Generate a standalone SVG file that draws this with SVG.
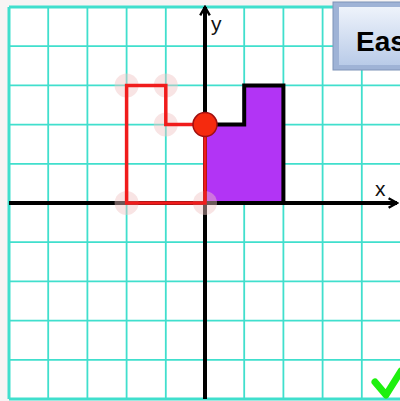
<svg xmlns="http://www.w3.org/2000/svg" width="400" height="401" viewBox="0 0 400 401">
<defs>
<style>
.grid{stroke:#40dfcd;stroke-width:1.8;fill:none}
.axis{stroke:#000;stroke-width:4;fill:none}
.lbl{font-family:"Liberation Sans",Arial,sans-serif;font-size:21px;fill:#111}
.ghost{fill:#f0c4c4;opacity:0.45}
</style>
<linearGradient id="box" x1="0" y1="0" x2="0" y2="1">
<stop offset="0" stop-color="#eef3fb"/>
<stop offset="1" stop-color="#b9cbe8"/>
</linearGradient>
<marker id="arr" viewBox="0 0 10 10" refX="8" refY="5" markerWidth="3" markerHeight="3" orient="auto">
<path d="M1,1 L8,5 L1,9" fill="none" stroke="#000" stroke-width="2"/>
</marker>
</defs>
<rect x="0" y="0" width="400" height="401" fill="#f7f4f4"/>
<rect x="9" y="7" width="392" height="392" fill="#ffffff"/>
<g id="grid" class="grid">
<path d="M48.2,7V399M87.4,7V399M126.6,7V399M165.8,7V399M244.2,7V399M283.4,7V399M322.6,7V399M361.8,7V399"/>
<path d="M9,46.2H401M9,85.4H401M9,124.6H401M9,163.8H401M9,242.2H401M9,281.4H401M9,320.6H401M9,359.8H401"/>
<path d="M9,7H401M9,7V399M9,399H401" stroke-width="3"/>
</g>
<g id="purple-shape">
<path d="M205,124.6H244.2V85.4H283.4V203H205Z" fill="#b234f5" stroke="#000" stroke-width="4" stroke-linejoin="miter"/>
</g>
<g id="connectors">
<path class="axis" d="M205,399V7" marker-end="url(#arr)"/>
<path class="axis" d="M9,203H397" marker-end="url(#arr)"/>
</g>
<g id="ghost-points">
<circle class="ghost" cx="126.6" cy="85.4" r="12"/>
<circle class="ghost" cx="165.8" cy="85.4" r="12"/>
<circle class="ghost" cx="165.8" cy="124.6" r="12"/>
<circle class="ghost" cx="126.6" cy="203" r="12"/>
<circle class="ghost" cx="205" cy="203" r="12"/>
</g>
<g id="red-shape">
<path d="M126.6,85.4H165.8V124.6H205V203H126.6Z" fill="none" stroke="#f01c1c" stroke-width="3.5"/>
</g>
<g id="red-point">
<circle cx="205" cy="124.6" r="12" fill="#f52a0e" stroke="#a01010" stroke-width="1.5"/>
</g>
<text class="lbl" x="211" y="31">y</text>
<text class="lbl" x="375" y="196">x</text>
<g id="easy-box">
<rect x="333" y="2" width="72" height="68" fill="#9fb3d6" stroke="#7f93b8" stroke-width="1"/>
<rect x="339" y="7" width="66" height="58" fill="url(#box)"/>
<text x="356" y="51" font-family="Liberation Sans,Arial,sans-serif" font-weight="bold" font-size="28" fill="#000">Eas</text>
</g>
<g id="check">
<path d="M375,382 L386,395 L401,371" fill="none" stroke="#1ef00e" stroke-width="7" stroke-linejoin="round" stroke-linecap="round"/>
</g>
</svg>
